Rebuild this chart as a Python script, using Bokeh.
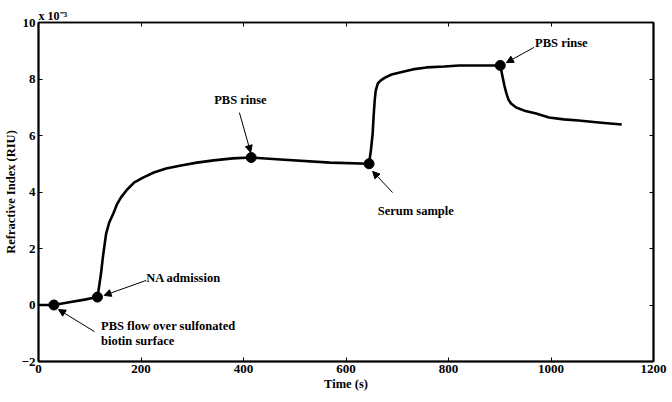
from bokeh.plotting import figure
from bokeh.models import (LinearAxis, Range1d, FixedTicker, Label, Arrow, NormalHead,
                          CustomJSTickFormatter)
from bokeh.embed import file_html
from bokeh.resources import INLINE

# ---- data (refractive index in units of 1e-3 RIU) ----
time_s = [0, 30, 60, 90, 115, 118.5, 122, 126, 132, 138, 146, 153, 161, 173,
          187, 204, 225, 249, 278, 309, 342, 379, 415,
          472, 569, 645, 649, 652, 654, 656, 658, 662, 668, 676, 689, 705,
          730, 757, 792, 821, 860, 901,
          905, 909, 913, 917, 922, 932, 948, 971, 996, 1025, 1054, 1093, 1138]
ri_e3 = [0.0, 0.0, 0.1, 0.19, 0.28, 0.69, 1.12, 1.75, 2.53, 2.92, 3.24, 3.56,
         3.81, 4.09, 4.34, 4.51, 4.69, 4.83, 4.94, 5.04, 5.12, 5.19, 5.22,
         5.15, 5.04, 5.0, 5.54, 6.07, 6.71, 7.24, 7.59, 7.84, 7.95, 8.05,
         8.16, 8.23, 8.34, 8.41, 8.44, 8.48, 8.48, 8.48,
         8.12, 7.77, 7.49, 7.27, 7.13, 6.99, 6.88, 6.78, 6.64, 6.57, 6.53,
         6.46, 6.39]

event_t = [30, 115, 415, 645, 901]
event_ri = [0.0, 0.28, 5.22, 5.0, 8.48]

x_ticks = [0, 200, 400, 600, 800, 1000, 1200]
y_ticks = [-2, 0, 2, 4, 6, 8, 10]

notes = ["PBS flow over sulfonated", "biotin surface", "NA admission",
         "PBS rinse", "Serum sample", "PBS rinse"]
note_x = [122, 122, 210, 394, 662, 969]
note_y = [-0.73, -1.26, 0.97, 7.24, 3.31, 9.26]
note_align = ["left", "left", "left", "center", "left", "left"]

arrow_tail_x = [109, 210, 392, 691, 967]
arrow_tail_y = [-0.94, 0.87, 6.81, 3.98, 9.12]
arrow_tip_x = [39, 128, 414, 652, 913]
arrow_tip_y = [-0.16, 0.34, 5.4, 4.73, 8.58]

FONT = "Liberation Serif"

p = figure(width=672, height=402, output_backend="svg", toolbar_location=None,
           x_range=Range1d(0, 1200), y_range=Range1d(-2, 10),
           min_border_left=37, min_border_right=19, min_border_top=22,
           min_border_bottom=41)
p.grid.visible = False
p.outline_line_color = "black"
p.outline_line_width = 1.5
p.background_fill_color = "white"
p.border_fill_color = "white"

p.title.text = "x 10\u207b\u00b3"
p.title.align = "left"
p.title.text_font = FONT
p.title.text_font_style = "bold"
p.title.text_font_size = "12px"
p.title.text_color = "black"
p.title.offset = 0
p.title.standoff = 0

for ax in (p.xaxis[0], p.yaxis[0]):
    ax.major_tick_in = 4
    ax.major_tick_out = 0
    ax.minor_tick_line_color = None
    ax.axis_line_color = "black"
    ax.axis_line_width = 2
    ax.major_label_text_font = FONT
    ax.major_label_text_font_style = "bold"
    ax.major_label_text_font_size = "13px"
    ax.major_label_text_color = "black"
    ax.axis_label_text_font = FONT
    ax.axis_label_text_font_style = "bold"
    ax.axis_label_text_font_size = "12.5px"
    ax.axis_label_text_color = "black"
    ax.major_label_standoff = 3

p.xaxis[0].ticker = FixedTicker(ticks=x_ticks)
p.yaxis[0].ticker = FixedTicker(ticks=y_ticks)
p.xaxis[0].axis_label = "Time (s)"
p.yaxis[0].axis_label = "Refractive Index (RIU)"
p.xaxis[0].axis_label_standoff = 1
p.yaxis[0].axis_label_standoff = 1

blank = CustomJSTickFormatter(code="return ''")
top = LinearAxis(ticker=FixedTicker(ticks=x_ticks), formatter=blank,
                 major_tick_in=4, major_tick_out=0, minor_tick_line_color=None,
                 axis_line_width=1.5, major_label_standoff=0)
right = LinearAxis(ticker=FixedTicker(ticks=y_ticks), formatter=blank,
                   major_tick_in=4, major_tick_out=0, minor_tick_line_color=None,
                   axis_line_width=2, major_label_standoff=0)
p.add_layout(top, "above")
p.add_layout(right, "right")

p.line(time_s, ri_e3, line_color="black", line_width=2.6, line_join="round")
p.scatter(event_t, event_ri, size=10, marker="circle", fill_color="black",
          line_color="black")

for tx, ty, hx, hy in zip(arrow_tail_x, arrow_tail_y, arrow_tip_x, arrow_tip_y):
    p.add_layout(Arrow(end=NormalHead(size=7, fill_color="black", line_color="black"),
                       x_start=tx, y_start=ty, x_end=hx, y_end=hy,
                       line_color="black", line_width=1))

for t, x, y, a in zip(notes, note_x, note_y, note_align):
    p.add_layout(Label(x=x, y=y, text=t, text_align=a, text_baseline="middle",
                       text_font=FONT, text_font_style="bold",
                       text_font_size="12.5px", text_color="black"))

open("out.html", "w").write(file_html(p, INLINE))
